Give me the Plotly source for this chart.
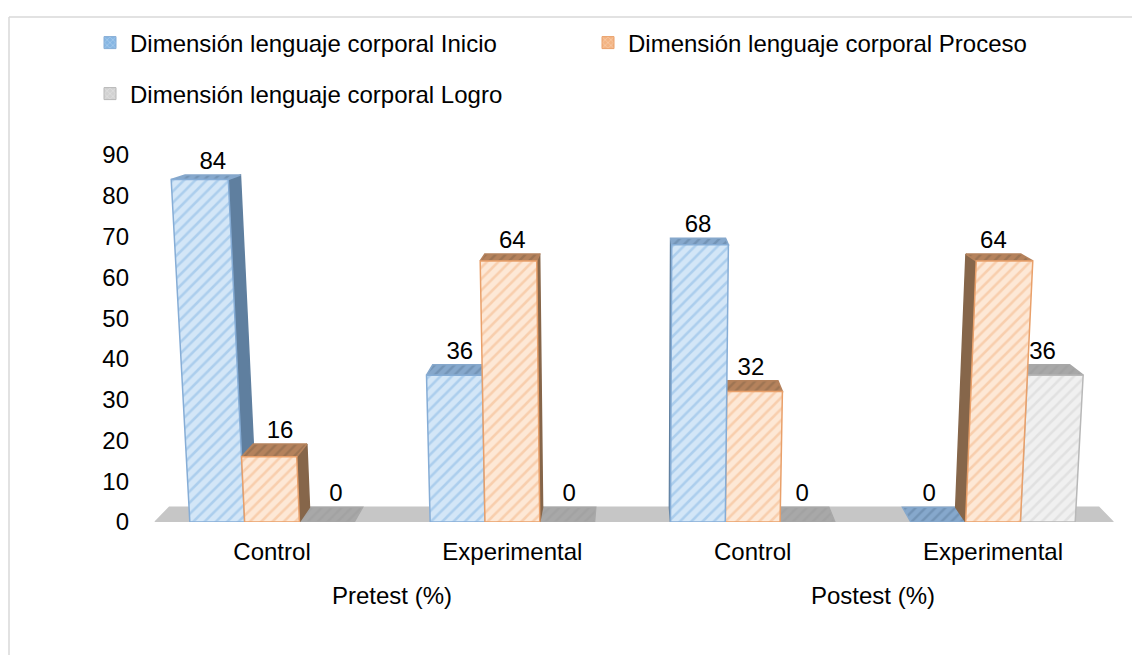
import plotly.graph_objects as go

groups = ["Control", "Experimental", "Control", "Experimental"]
stages = ["Pretest (%)", "Postest (%)"]
y_ticks = [0, 10, 20, 30, 40, 50, 60, 70, 80, 90]

inicio = [84, 36, 68, 0]
proceso = [16, 64, 32, 64]
logro = [0, 0, 0, 36]

names = [
    "Dimensión lenguaje corporal Inicio",
    "Dimensión lenguaje corporal Proceso",
    "Dimensión lenguaje corporal Logro",
]
series = [inicio, proceso, logro]

# front, hatch, outline, dark faces (side / top)
styles = [
    dict(bg="#d3e6f7", fg="#86b6e3", line="#86add6", side="#5f7f9f", top="#86a8cc"),
    dict(bg="#fde8d6", fg="#f3b483", line="#e9a06a", side="#86664a", top="#b5825c"),
    dict(bg="#f0f0f0", fg="#d2d2d2", line="#b8b8b8", side="#9c9c9c", top="#a8a8a8"),
]

FONT = "Liberation Sans"
BAR_W = 0.228
DEPTH = 0.03       # how far the back face sits towards the vanishing point
LEAN = 0.0005      # bars spread outwards as they get taller
VP_X = 1.506
VP_Y = 120.6


def front(x, v):
    return VP_X + (x - VP_X) * (1 + LEAN * v), v


def back(x, v):
    fx, fy = front(x, v)
    return fx + DEPTH * (VP_X - fx), fy + DEPTH * (VP_Y - fy)


def poly(points):
    xs = [p[0] for p in points] + [points[0][0]]
    ys = [p[1] for p in points] + [points[0][1]]
    return xs, ys


def face(points, color, line, pattern=None):
    xs, ys = poly(points)
    return go.Scatter(
        x=xs, y=ys, mode="lines", fill="toself", fillcolor=color,
        fillpattern=pattern, line=dict(color=line, width=1.5),
        showlegend=False, hoverinfo="skip",
    )


fig = go.Figure()

# suelo del gráfico
floor_l, floor_r = -0.487, 3.5
fig.add_trace(face(
    [front(floor_l, 0), front(floor_r, 0), back(floor_r, 0), back(floor_l, 0)],
    "#c6c6c6", "#c6c6c6",
))

bars = []
for s, values in enumerate(series):
    for g, v in enumerate(values):
        bars.append((g + (s - 1) * BAR_W, v, s))
# flat bars first, then outer bars towards the centre
bars.sort(key=lambda b: (b[1] > 0, -abs(b[0] - VP_X)))

label_x, label_y, label_text = [], [], []
for x, v, s in bars:
    st = styles[s]
    l, r = x - BAR_W / 2, x + BAR_W / 2
    pat = dict(shape="/", bgcolor=st["bg"], fgcolor=st["fg"], size=8, solidity=0.32)
    dark = dict(shape="/", bgcolor=st["top"], fgcolor=st["side"], size=7, solidity=0.35)
    if v == 0:
        fig.add_trace(face([front(l, 0), front(r, 0), back(r, 0), back(l, 0)],
                           st["top"], st["top"], dark))
    else:
        near = r if x < VP_X else l
        fig.add_trace(face([front(near, 0), front(near, v), back(near, v), back(near, 0)],
                           st["side"], st["side"]))
        fig.add_trace(face([front(l, v), front(r, v), back(r, v), back(l, v)],
                           st["top"], st["top"], dark))
        fig.add_trace(face([front(l, 0), front(r, 0), front(r, v), front(l, v)],
                           st["bg"], st["line"], pat))
    bx, by = back(x, v)
    label_x.append(bx)
    label_y.append(by)
    label_text.append(str(v))

fig.add_trace(go.Scatter(
    x=label_x, y=label_y, text=label_text, mode="text", textposition="top center",
    textfont=dict(family=FONT, size=24, color="#000000"),
    showlegend=False, hoverinfo="skip", cliponaxis=False,
))

# leyenda: cada entrada en su propia caja para fijar la posición
for s, name in enumerate(names):
    st = styles[s]
    fig.add_trace(go.Bar(
        x=[None], y=[None], name=name,
        legend="legend" if s == 0 else f"legend{s + 1}",
        marker=dict(
            color=st["fg"], line=dict(color=st["line"], width=1),
            pattern=dict(shape="x", bgcolor=st["fg"], fgcolor=st["bg"], size=5, solidity=0.3),
        ),
    ))


# the page sits 8 px in from the window, these take window pixels
def px_x(p):
    return (p - 130) / 1000


def px_y(p):
    return (522 - p) / 367


def legend_at(x, y):
    return dict(
        x=px_x(x), y=px_y(y), xanchor="left", yanchor="middle",
        bgcolor="rgba(0,0,0,0)", font=dict(family=FONT, size=24, color="#000000"),
    )


fig.update_layout(
    width=1140, height=655,
    margin=dict(l=122, r=18, t=147, b=141),
    paper_bgcolor="#ffffff", plot_bgcolor="#ffffff",
    showlegend=True,
    legend=legend_at(90, 43),
    legend2=legend_at(588, 43),
    legend3=legend_at(90, 94),
    xaxis=dict(
        range=[-0.591, 3.57], tickmode="array", tickvals=[0, 1, 2, 3], ticktext=groups,
        showgrid=False, zeroline=False, showline=False, ticks="", ticklabelstandoff=13,
        tickfont=dict(family=FONT, size=24, color="#000000"),
    ),
    yaxis=dict(
        range=[0, 90], tickmode="array", tickvals=y_ticks,
        showgrid=False, zeroline=False, showline=False, ticks="",
        tickfont=dict(family=FONT, size=24, color="#000000"),
    ),
    annotations=[
        dict(text=stages[0], x=0.5, xref="x", y=px_y(595), yref="paper", yanchor="middle",
             showarrow=False, font=dict(family=FONT, size=24, color="#000000")),
        dict(text=stages[1], x=2.5, xref="x", y=px_y(595), yref="paper", yanchor="middle",
             showarrow=False, font=dict(family=FONT, size=24, color="#000000")),
    ],
    shapes=[
        dict(type="line", xref="paper", yref="paper", x0=px_x(9), x1=px_x(9),
             y0=px_y(655), y1=px_y(17), line=dict(color="#d9d9d9", width=1.5)),
        dict(type="line", xref="paper", yref="paper", x0=px_x(9), x1=px_x(1140),
             y0=px_y(17), y1=px_y(17), line=dict(color="#d9d9d9", width=1.5)),
    ],
)

fig.write_html("out.html")
